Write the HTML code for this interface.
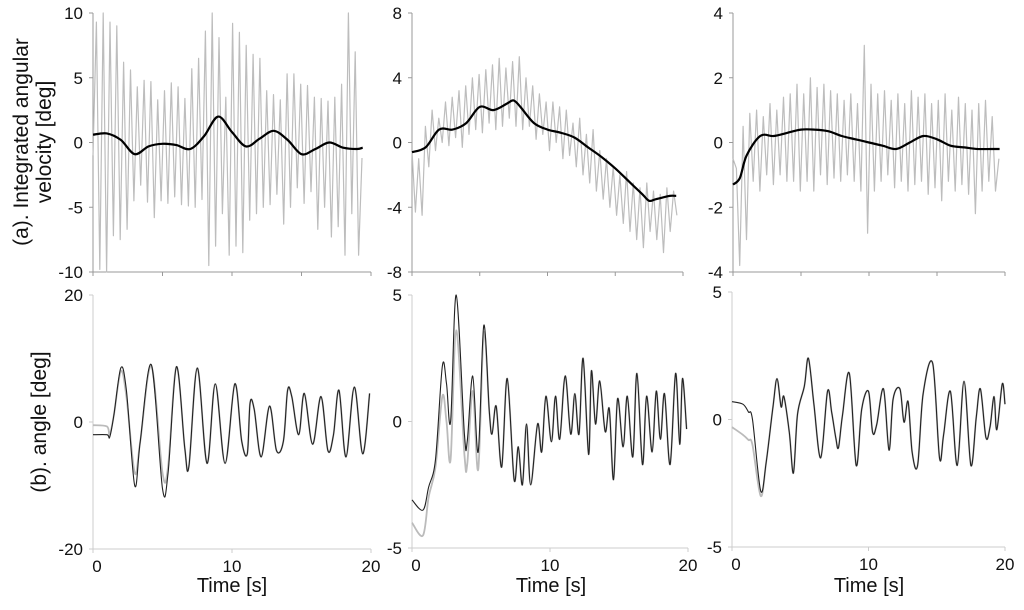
<!DOCTYPE html>
<html><head><meta charset="utf-8"><style>
body{margin:0;background:#fff;}
svg{display:block;font-family:"Liberation Sans",sans-serif;}
</style></head><body>
<svg id="c" width="1024" height="610" viewBox="0 0 1024 610" xmlns="http://www.w3.org/2000/svg">
<text x="0" y="0" font-size="21" fill="#111" text-anchor="middle" transform="translate(28,142) rotate(-90)">(a). Integrated angular</text>
<text x="0" y="0" font-size="21" fill="#111" text-anchor="middle" transform="translate(51,142) rotate(-90)">velocity [deg]</text>
<text x="0" y="0" font-size="21" fill="#111" text-anchor="middle" transform="translate(46,422) rotate(-90)">(b). angle [deg]</text>
<text x="232" y="592" font-size="20" fill="#111" text-anchor="middle">Time [s]</text>
<text x="551" y="592" font-size="20" fill="#111" text-anchor="middle">Time [s]</text>
<text x="869" y="592" font-size="20" fill="#111" text-anchor="middle">Time [s]</text>
</svg>
<script>
// ---- Top row: noisy integrated angular velocity (gray, sampled every 0.25 s) ----
const noiseStep = 0.25;
const noise1 = [-1,9.3,-9.8,10,-10,9.3,-7.2,9,-7.5,6.2,-6.7,5.6,-4.5,4.3,-3.3,4.8,-4.6,4.7,-5.8,3.3,-4.5,4,-4.7,4.6,-4.2,4.3,-4.8,3.4,-4.9,5.7,-5,6.5,-4.4,8.6,-9.5,10,-8,8.1,-5.5,3.5,-8.7,9.2,-8,8.5,-8.5,7.5,-6,6.8,-5.5,6.5,-5,4,-4.8,3.7,-4,3.3,-6.3,5.3,-5,5.3,-3.5,4.5,-4.7,4.4,-3.8,3.5,-6.7,3.4,-5,3.2,-7.3,3.5,-6.5,4.5,-8.7,10,-5.5,7,-8.7,-1.2];
const noise2 = [-0.5,-4.3,-1,-4.5,1,-1.5,2,-0.5,1.5,0,2.5,-0.2,2.8,0.3,3.2,-0.3,3.5,0.5,4,0.8,4.2,0.6,4.5,1.2,4.8,0.8,5.2,1,4.6,1.5,5,1,5.3,0.8,4,1,3.5,0.2,3,0.5,2.5,-0.5,2.5,0,2.2,-1,2,-0.8,1.2,-1.5,1.5,-2,0.5,-2.5,0.8,-3,-0.5,-3.5,-1,-4,-1.5,-4.5,-2,-5,-1.8,-5.5,-2.5,-6,-2.8,-6.5,-2.5,-5.5,-3,-6,-3.2,-6.8,-2.8,-5.5,-3,-4.5];
const noise3 = [-0.5,-0.8,-3.8,0.5,-3,0.9,-1.2,1,-1.5,0.8,-1,1.2,-1.3,1.0,-1.0,1.4,-1.2,1.5,-1.2,1.8,-1.5,1.5,-1.2,2,-1.5,1.7,-1,1.8,-1.3,1.6,-1.1,1.5,-1.2,1.3,-1,1.5,-1.2,1.2,-1.5,3.0,-2.8,1.8,-1.5,1.5,-1.2,1.6,-1,1.3,-1.4,1.5,-1.2,1.2,-1.5,1.6,-1.3,1.4,-1.2,1.5,-1.6,1.2,-1.4,1.3,-1.8,1.5,-1.2,1,-1.5,1.4,-1.3,1.2,-1.6,1.0,-2.2,1.2,-1.5,1.3,-1.2,0.8,-1.5,-0.5];
// smoothed (black) curves
const smoothT1 = [0,1,2,3,4,5,6,7,8,9,10,11,12,13,14,15,16,17,18,19,19.4];
const smoothV1 = [0.6,0.7,0.2,-0.9,-0.3,-0.1,-0.2,-0.5,0.5,2.0,0.8,-0.3,0.3,0.9,0.2,-0.9,-0.5,0.0,-0.4,-0.5,-0.4];
const smoothT2 = [0,1,2,3,4,5,6,7,7.5,8,9,10,11,12,13,14,15,16,17,17.5,18,19,19.5];
const smoothV2 = [-0.6,-0.3,0.8,0.8,1.2,2.2,2.0,2.4,2.6,2.2,1.2,0.8,0.6,0.3,-0.3,-0.9,-1.6,-2.4,-3.2,-3.6,-3.5,-3.3,-3.3];
const smoothT3 = [0,0.5,1,2,3,4,5,6,7,8,9,10,11,12,13,14,15,16,17,18,19,19.6];
const smoothV3 = [-1.3,-1.1,-0.4,0.2,0.2,0.3,0.4,0.4,0.35,0.2,0.1,0.0,-0.1,-0.2,0.0,0.2,0.1,-0.1,-0.15,-0.2,-0.2,-0.2];
// ---- Bottom row: angle (black = measured, gray = estimate) ----
const angT1 = [0,1,1.2,1.5,2,2.4,3,3.4,4.2,5,5.4,6,6.6,6.9,7.5,8.2,8.8,9.5,10.2,10.7,11.1,11.3,11.6,12.1,12.7,13.2,13.7,14,14.3,14.8,15.2,15.8,16.4,16.9,17.3,17.7,18.2,18.8,19.4,19.9];
const angB1 = [-2,-2,-2.4,1,8.5,5,-10,-3,9,-10.5,-8,8.7,-4,-7,8.5,-6.5,6,-6.5,6,-3,-5,3,2,-5.5,2.5,-4.5,-3,5,4,-2,4.5,-3.5,4,-4.5,-2,5,-5.5,5.5,-5,4.5];
const angG1Head = [-0.5,-0.7,-2,1,8,4,-8,-3,8.8,-8,-7];
const angT2 = [0,0.8,1.2,1.7,2.2,2.5,2.8,3.2,3.8,4.0,4.4,4.8,5.2,5.6,5.8,6.1,6.5,6.9,7.4,7.7,8.0,8.3,8.6,9.1,9.4,9.7,10.1,10.4,10.7,11.1,11.5,11.8,12.1,12.4,12.8,13.0,13.3,13.6,14.0,14.3,14.6,14.9,15.3,15.6,16.0,16.3,16.7,17.0,17.4,17.7,18.0,18.3,18.7,19.1,19.4,19.6,19.9];
const angB2 = [-3.1,-3.5,-2.6,-1.5,2.2,1.5,0.0,5.0,-0.5,-0.8,1.8,-1.2,3.8,0.4,-0.5,0.6,-1.8,1.7,-2.3,-1.0,-2.5,-0.1,-2.5,-0.1,-1.2,1.0,-0.8,1.0,-0.7,1.8,-0.5,1.1,-0.5,2.5,-1.3,2.0,-0.1,1.6,-0.4,0.5,-2.3,0.9,-1.0,1.0,-1.4,1.9,-1.7,1.0,-1.2,1.2,-0.7,1.1,-1.7,1.9,-0.9,1.7,-0.3];
const angG2Head = [-4,-4.5,-3,-1.8,1.0,0.0,-1.5,3.6,-1.3,-1.7,1.2,-1.9,3.5];
const angT3 = [0,0.8,1.2,1.5,2.1,2.5,3.0,3.3,3.6,3.8,4.2,4.5,4.8,5.3,5.6,6.0,6.5,7.0,7.3,7.6,7.8,8.1,8.6,9.1,9.5,10.0,10.3,10.6,11.1,11.5,11.8,12.3,12.6,12.9,13.2,13.6,14.0,14.7,15.2,15.5,16.0,16.5,17.0,17.5,17.9,18.2,18.6,18.9,19.2,19.4,19.8,20];
const angB3 = [0.7,0.6,0.3,0,-2.8,-1.7,0.5,1.6,0.5,0.9,-0.5,-2.1,0.2,1.3,2.4,0.6,-1.5,1.1,0.3,-0.7,-1.1,0.2,1.8,-1.8,0.4,1.1,-0.5,-0.2,1.2,-1.2,0.8,1.2,-0.1,0.7,-1.3,-1.8,1.0,2.2,-1.5,-0.6,1.1,-1.8,1.5,-1.8,0.1,1.2,-0.7,-0.3,0.9,-0.4,1.4,0.6];
const angG3Head = [-0.3,-0.6,-0.8,-1.0,-3.0];
// tick labels
const topTicks1 = [10,5,0,-5,-10];
const topTicks2 = [8,4,0,-4,-8];
const topTicks3 = [4,2,0,-2,-4];
const botTicks1 = [20,0,-20];
const botTicks2 = [5,0,-5];
const botTicks3 = [5,0,-5];
const xTickLabels = [0,10,20];

const svg = document.getElementById('c');
const NS = 'http://www.w3.org/2000/svg';
function mk(tag, attrs, parent){const e=document.createElementNS(NS,tag);for(const k in attrs)e.setAttribute(k,attrs[k]);(parent||svg).appendChild(e);return e;}
function smoothPath(xs, ys){
  let d='M'+xs[0].toFixed(1)+','+ys[0].toFixed(1);
  for(let i=0;i<xs.length-1;i++){
    const x0=xs[Math.max(0,i-1)],y0=ys[Math.max(0,i-1)],x1=xs[i],y1=ys[i],x2=xs[i+1],y2=ys[i+1],x3=xs[Math.min(xs.length-1,i+2)],y3=ys[Math.min(xs.length-1,i+2)];
    const c1x=x1+(x2-x0)/6,c1y=y1+(y2-y0)/6,c2x=x2-(x3-x1)/6,c2y=y2-(y3-y1)/6;
    d+=' C'+c1x.toFixed(1)+','+c1y.toFixed(1)+' '+c2x.toFixed(1)+','+c2y.toFixed(1)+' '+x2.toFixed(1)+','+y2.toFixed(1);
  }
  return d;
}
function panel(p){
  const g=mk('g',{});
  
  
  const sx=t=>p.x0+(p.x1-p.x0)*t/20;
  const sy=v=>p.yTop+(p.yBot-p.yTop)*(p.ticks[0]-v)/(p.ticks[0]-p.ticks[p.ticks.length-1]);
  const ax=mk('path',{d:`M${p.x0},${p.yTop} V${p.yBot} H${p.x1}`,stroke:p.axisColor,'stroke-width':1,fill:'none'},g);
  
  
  p.ticks.forEach(v=>{
    const y=sy(v);
    mk('line',{x1:p.x0-4,x2:p.x0,y1:y,y2:y,stroke:p.axisColor},g);
    const t=mk('text',{x:p.x0-10,y:y+6,'font-size':17,'text-anchor':'end',fill:'#111'},g);
    t.textContent=v;
    
    
  });
  [0,5,10,15,20].forEach(tv=>{ if(p.xt5 || tv%10===0) mk('line',{x1:sx(tv),x2:sx(tv),y1:p.yBot,y2:p.yBot+4,stroke:p.axisColor},g);});
  if(p.xlabels){ xTickLabels.forEach(tv=>{
    const t=mk('text',{x:sx(tv)+(tv===0?4:0),y:p.yBot+23,'font-size':17,'text-anchor':'middle',fill:'#111'},g);
    t.textContent=tv;
    
    
  });}
  if(p.noise){
    let d='';
    p.noise.forEach((v,i)=>{d+=(i?'L':'M')+sx(i*noiseStep*p.noiseScale).toFixed(1)+','+sy(v).toFixed(1);});
    const n=mk('path',{d,stroke:'#bdbdbd','stroke-width':1.2,fill:'none','stroke-linejoin':'round'},g);
    
    
    const s=mk('path',{d:smoothPath(p.sT.map(sx),p.sV.map(sy)),stroke:'#000','stroke-width':2.2,fill:'none'},g);
    
    
  } else {
    const gv=p.gHead.concat(p.bV.slice(p.gHead.length));
    const gr=mk('path',{d:smoothPath(p.bT.map(sx),gv.map(sy)),stroke:'#bbb','stroke-width':1.8,fill:'none'},g);
    
    
    const bl=mk('path',{d:smoothPath(p.bT.map(sx),p.bV.map(sy)),stroke:'#222','stroke-width':1.1,fill:'none'},g);
    
    
  }
}
panel({name:'panel-a1',x0:93,x1:371,yTop:13,yBot:272,ticks:topTicks1,axisColor:'#999',xt5:true,noise:noise1,noiseScale:0.98,sT:smoothT1,sV:smoothV1});
panel({name:'panel-a2',x0:412,x1:683,yTop:13,yBot:272,ticks:topTicks2,axisColor:'#999',xt5:true,noise:noise2,noiseScale:0.99,sT:smoothT2,sV:smoothV2});
panel({name:'panel-a3',x0:733,x1:1005,yTop:13,yBot:272,ticks:topTicks3,axisColor:'#999',xt5:true,noise:noise3,noiseScale:0.99,sT:smoothT3,sV:smoothV3});
panel({name:'panel-b1',x0:93,x1:371,yTop:295,yBot:549,ticks:botTicks1,axisColor:'#ccc',xlabels:true,bT:angT1,bV:angB1,gHead:angG1Head});
panel({name:'panel-b2',x0:412,x1:688,yTop:295,yBot:548,ticks:botTicks2,axisColor:'#ccc',xlabels:true,bT:angT2,bV:angB2,gHead:angG2Head});
panel({name:'panel-b3',x0:732,x1:1005,yTop:292,yBot:547,ticks:botTicks3,axisColor:'#ccc',xlabels:true,bT:angT3,bV:angB3,gHead:angG3Head});
</script>
</body></html>
